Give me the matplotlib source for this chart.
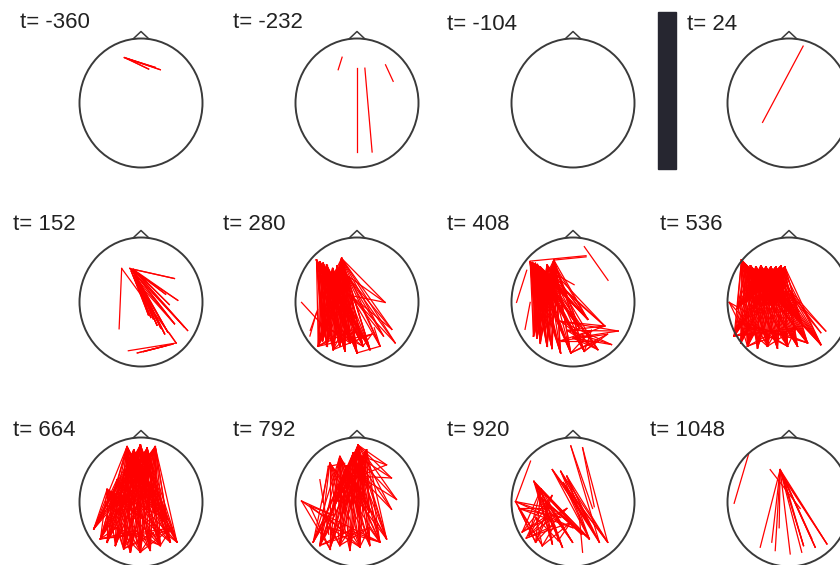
import matplotlib.pyplot as plt
from matplotlib.patches import Ellipse, Rectangle

plt.rcParams['font.family'] = ['Liberation Sans', 'DejaVu Sans']

# time of each map (ms)
times = [-360, -232, -104, 24, 152, 280, 408, 536, 664, 792, 920, 1048]

# connections per map: (source electrodes, target electrodes), every source
# linked to every target. electrode positions are in % of the head box
# (x from left, y from top)
links_m360 = [
    ([(36.5, 14.8), (38.5, 15.5)], [(65.7, 24.2), (61.6, 22.4), (56.2, 23.7)]),
]
links_m232 = [
    ([(37.9, 14.5)], [(34.7, 24.2)]),
    ([(50.4, 23.0)], [(50.4, 88.0)]),
    ([(56.4, 23.0)], [(62.3, 88.0)]),
    ([(73.2, 20.4)], [(79.4, 33.2)]),
]
links_m104 = []
links_24 = [
    ([(61.5, 5.9)], [(28.5, 65.0)]),
]
links_152 = [
    ([(34.3, 24.0)], [(32.2, 70.8), (78.6, 81.8)]),
    ([(78.6, 81.8)], [(39.7, 87.8), (73.0, 74.0)]),
    ([(76.0, 82.6), (70.0, 84.0)], [(52.0, 88.5), (47.0, 89.5)]),
    ([(41.0, 24.0), (43.7, 24.7)], [(77.2, 31.8), (79.9, 48.7), (87.9, 72.1), (85.3, 69.5)]),
    ([(43.0, 25.0), (45.0, 27.9), (46.4, 31.8), (49.1, 37.0)],
     [(77.2, 66.9), (71.8, 73.4), (69.2, 74.7), (66.0, 70.0), (63.0, 68.0), (60.0, 63.0)]),
    ([(42.0, 26.0), (44.0, 30.0), (47.0, 34.0)], [(56.0, 60.0), (58.0, 62.0), (54.0, 52.0)]),
    ([(48.0, 28.0), (45.0, 26.0)], [(70.0, 44.0), (73.0, 52.0)]),
]
links_280 = [
    ([(17.1, 17.5), (20.0, 19.0), (22.5, 20.0), (25.3, 21.5), (30.2, 24.1),
      (34.0, 22.0), (37.5, 16.2), (39.4, 21.5), (41.6, 29.3)],
     [(18.5, 84.3), (22.0, 80.0), (25.3, 84.3), (30.7, 86.9), (36.1, 84.3),
      (40.2, 88.2), (44.3, 81.7), (50.0, 89.5), (54.9, 84.3), (60.6, 86.9)]),
    ([(17.1, 17.5), (25.3, 21.5), (37.5, 16.2), (30.2, 24.1)],
     [(20.0, 50.0), (27.0, 55.0), (34.0, 52.0), (40.0, 58.0), (48.0, 62.0), (22.0, 65.0)]),
    ([(18.5, 84.3), (30.7, 86.9), (44.3, 81.7), (54.9, 84.3)],
     [(26.0, 70.0), (38.0, 72.0), (50.0, 70.0), (62.0, 75.0)]),
    ([(37.5, 16.2), (41.6, 29.3), (45.0, 45.0)],
     [(72.8, 50.3), (78.3, 71.2), (81.0, 81.7), (71.5, 76.4), (68.8, 84.3)]),
    ([(50.0, 89.5)], [(68.8, 84.3), (47.0, 75.0)]),
    ([(68.8, 84.3)], [(64.0, 70.0)]),
    ([(4.9, 50.3)], [(22.6, 68.6)]),
    ([(11.7, 76.4)], [(17.1, 58.1)]),
    ([(12.0, 72.0)], [(18.0, 56.0)]),
]
links_408 = [
    ([(15.2, 18.8), (17.0, 19.5), (19.3, 20.2), (21.0, 21.0), (23.4, 22.8),
      (28.9, 21.5), (34.4, 17.5), (35.8, 22.8)],
     [(17.9, 76.4), (20.5, 78.0), (23.4, 81.7), (28.9, 84.3), (33.0, 86.0),
      (39.9, 89.5), (48.2, 89.5), (59.2, 88.2), (62.0, 63.4), (55.0, 70.0)]),
    ([(15.2, 18.8), (19.3, 20.2), (23.4, 22.8), (34.4, 17.5)],
     [(18.0, 50.0), (24.0, 55.0), (30.0, 52.0), (36.0, 58.0), (42.0, 60.0), (20.0, 65.0)]),
    ([(17.0, 19.5), (23.4, 22.8), (28.9, 21.5)], [(70.2, 86.9), (75.8, 68.6), (62.0, 63.4)]),
    ([(40.0, 65.0), (45.0, 72.0), (50.0, 78.0)], [(70.2, 86.9), (81.3, 83.0), (86.8, 72.5), (75.8, 68.6)]),
    ([(48.2, 89.5), (59.2, 88.2), (40.0, 80.0)], [(70.0, 80.0), (78.0, 75.0), (65.0, 72.0)]),
    ([(15.2, 18.3)], [(60.6, 14.1)]),
    ([(34.4, 17.5)], [(60.6, 15.0)]),
    ([(59.2, 7.1)], [(78.5, 33.2)]),
    ([(37.2, 29.3)], [(50.9, 36.6)]),
    ([(4.1, 50.3)], [(12.4, 25.4)]),
    ([(11.0, 71.2)], [(15.2, 50.3)]),
]
links_536 = [
    ([(11.4, 17.5), (14.9, 21.5), (18.7, 22.0), (23.0, 22.8), (27.1, 22.0),
      (31.2, 22.8), (35.2, 22.8), (39.3, 22.8), (43.4, 22.0), (46.6, 22.8)],
     [(5.4, 76.4), (10.8, 81.7), (16.3, 84.3), (24.4, 85.6), (32.5, 84.3),
      (40.6, 85.6), (48.8, 84.3), (56.9, 84.3), (65.0, 81.7), (75.9, 83.0)]),
    ([(11.4, 17.5), (14.9, 21.5), (18.7, 22.0), (23.0, 22.8), (27.1, 22.0),
      (31.2, 22.8), (35.2, 22.8), (39.3, 22.8), (43.4, 22.0), (46.6, 22.8)],
     [(8.0, 55.0), (15.0, 50.0), (22.0, 55.0), (30.0, 50.0), (38.0, 55.0),
      (45.0, 50.0), (52.0, 60.0), (60.0, 65.0)]),
    ([(5.4, 76.4), (16.3, 84.3), (32.5, 84.3), (48.8, 84.3), (65.0, 81.7)],
     [(24.4, 70.0), (40.0, 72.0), (56.0, 70.0), (10.0, 65.0)]),
    ([(1.4, 50.3)], [(16.3, 58.1), (20.0, 70.0), (14.0, 75.0)]),
    ([(47.4, 37.2), (48.8, 42.4)], [(79.9, 72.5), (75.9, 73.8)]),
]
links_664 = [
    ([(38.6, 7.1), (44.1, 9.7), (49.5, 5.9), (55.0, 8.4), (61.6, 7.1),
      (30.5, 32.7), (22.4, 40.3), (47.0, 18.0), (56.0, 22.0), (40.0, 20.0)],
     [(11.6, 70.9), (17.0, 78.6), (22.4, 81.1), (29.2, 83.7), (35.9, 86.2), (41.4, 88.8),
      (49.5, 88.8), (57.6, 87.5), (65.7, 83.7), (73.8, 81.1), (79.2, 81.1), (71.1, 63.3)]),
    ([(38.6, 7.1), (49.5, 5.9), (61.6, 7.1), (44.1, 9.7), (55.0, 8.4)],
     [(25.0, 55.0), (32.0, 60.0), (40.0, 58.0), (48.0, 62.0), (56.0, 55.0), (62.0, 60.0), (68.0, 65.0)]),
    ([(17.0, 78.6), (35.9, 86.2), (49.5, 88.8), (65.7, 83.7)],
     [(30.0, 70.0), (45.0, 72.0), (60.0, 74.0), (75.0, 70.0)]),
]
links_792 = [
    ([(50.9, 5.9), (46.9, 12.2), (57.7, 9.7), (36.0, 14.8), (41.5, 22.4), (27.9, 19.9), (53.0, 18.0)],
     [(14.4, 81.1), (19.8, 83.7), (27.9, 86.2), (36.0, 83.7), (44.2, 87.5),
      (52.3, 84.9), (60.4, 83.7), (68.6, 81.1), (74.0, 78.6)]),
    ([(50.9, 5.9), (46.9, 12.2), (36.0, 14.8), (41.5, 22.4), (57.7, 9.7)],
     [(30.0, 55.0), (38.0, 60.0), (45.0, 55.0), (52.0, 62.0), (60.0, 58.0), (35.0, 45.0), (55.0, 45.0)]),
    ([(19.8, 83.7), (36.0, 83.7), (52.3, 84.9), (68.6, 81.1)],
     [(28.0, 70.0), (44.0, 72.0), (60.0, 70.0), (24.0, 60.0)]),
    ([(50.9, 5.9), (46.9, 12.2), (52.0, 30.0)], [(74.0, 21.2), (78.0, 31.4), (82.1, 48.0), (78.0, 55.6)]),
    ([(4.9, 49.2), (11.7, 53.1)], [(30.0, 60.0), (36.0, 70.0), (27.9, 86.2)]),
    ([(19.8, 32.7)], [(27.0, 75.0)]),
    ([(26.6, 22.4)], [(22.0, 50.0), (40.0, 20.0)]),
]
links_920 = [
    ([(15.5, 18.3)], [(3.3, 49.7)]),
    ([(48.2, 6.5)], [(65.9, 55.0), (71.4, 81.2)]),
    ([(57.8, 7.9)], [(67.3, 53.7), (78.2, 81.2)]),
    ([(55.0, 60.0)], [(57.8, 89.0)]),
    ([(18.2, 34.0), (19.6, 36.6), (24.0, 40.0), (22.0, 45.0), (28.0, 50.0)],
     [(49.6, 81.2), (41.4, 85.1), (63.2, 78.5), (57.0, 75.0), (33.2, 82.5)]),
    ([(40.0, 26.2), (33.2, 24.9), (45.0, 30.0), (42.0, 35.0)],
     [(71.4, 81.2), (78.2, 81.2), (63.2, 78.5), (66.0, 72.0)]),
    ([(3.3, 49.7), (6.0, 55.0)], [(33.0, 55.0), (40.0, 62.0), (25.1, 83.8), (19.6, 81.2), (50.0, 70.0)]),
    ([(8.7, 73.3), (14.2, 75.9), (19.6, 81.2)], [(33.0, 45.0), (45.0, 55.0), (30.0, 60.0), (24.0, 40.0)]),
    ([(12.0, 78.0), (25.0, 84.0), (38.0, 80.0)], [(20.0, 62.0), (35.0, 68.0), (48.0, 66.0)]),
]
links_1048 = [
    ([(17.1, 13.1)], [(5.4, 51.0)]),
    ([(42.8, 24.9)], [(26.6, 85.1), (36.0, 81.2), (38.8, 87.7), (51.0, 90.3), (60.4, 89.0),
                      (61.8, 83.8), (71.3, 85.1), (80.8, 82.5), (68.6, 78.5), (42.0, 70.0)]),
    ([(34.7, 24.9)], [(59.1, 55.0)]),
    ([(44.0, 28.0), (46.0, 32.0)], [(80.8, 82.5), (71.3, 85.1), (61.8, 83.8)]),
]

all_links = [links_m360, links_m232, links_m104, links_24,
             links_152, links_280, links_408, links_536,
             links_664, links_792, links_920, links_1048]

# layout in pixels
col_x = [141, 357, 573, 789]
row_y = [103, 302, 502]
RX, RY = 61.5, 64.5
label_pos = [(20, 23), (233, 23), (447, 25), (687, 25),
             (13, 224), (223, 224), (447, 224), (660, 224),
             (13, 431), (233, 431), (447, 431), (650, 431)]

fig = plt.figure(figsize=(8.4, 5.65), dpi=100)
fig.set_facecolor("white")
ax = fig.add_axes([0, 0, 1, 1])
ax.set_xlim(0, 840)
ax.set_ylim(565, 0)
ax.axis("off")


def to_px(cx, cy, p):
    return cx + (p[0] / 100 - 0.5) * 2 * RX, cy + (p[1] / 100 - 0.5) * 2 * RY


for i, t in enumerate(times):
    cx = col_x[i % 4]
    cy = row_y[i // 4]

    # red connection lines
    for srcs, tgts in all_links[i]:
        for s in srcs:
            for g in tgts:
                x1, y1 = to_px(cx, cy, s)
                x2, y2 = to_px(cx, cy, g)
                ax.plot([x1, x2], [y1, y2], color="#ff0000", lw=0.9, zorder=2)

    # head outline + nose
    ax.add_patch(Ellipse((cx, cy), 2 * RX, 2 * RY, fill=False,
                         ec="#3a3a3a", lw=1.4, zorder=3))
    ax.plot([cx - 8, cx, cx + 8], [cy - RY + 0.5, cy - RY - 7, cy - RY + 0.5],
            color="#3a3a3a", lw=1.1, zorder=3)

    lx, ly = label_pos[i]
    ax.text(lx, ly, "t= %d" % t, fontsize=16, color="#222222",
            ha="left", va="center")

# stimulus onset marker
ax.add_patch(Rectangle((657.5, 12), 18, 157, color="#262630", zorder=4))

fig.savefig("out.png", dpi=100, facecolor="white")
